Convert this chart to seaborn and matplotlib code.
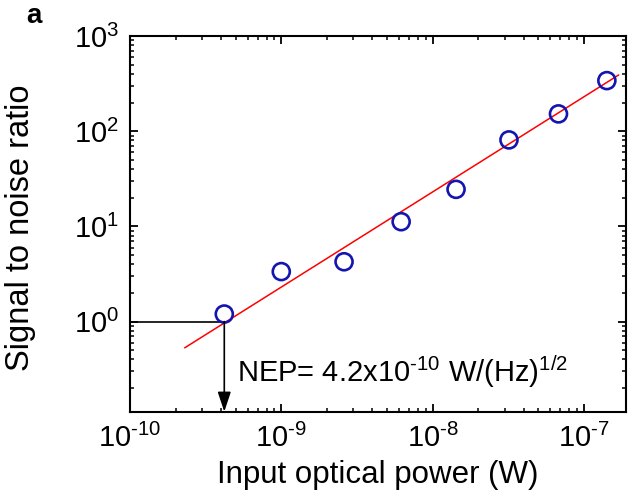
import numpy as np
import pandas as pd
import seaborn as sns
import matplotlib as mpl
import matplotlib.pyplot as plt
from matplotlib.ticker import LogLocator, FuncFormatter, NullFormatter

# measured points
power_w = [4.2e-10, 1.0e-9, 2.6e-9, 6.2e-9, 1.43e-8, 3.2e-8, 6.8e-8, 1.42e-7]
snr = [1.2, 3.35, 4.25, 11.2, 24.5, 81, 152, 340]

# linear fit (slope 1 on log-log)
fit_power = [2.3e-10, 1.7e-7]
fit_snr = [0.53, 390]

# noise equivalent power marker
nep_power = 4.2e-10
nep_snr = 1.0
nep_label = r"NEP= 4.2x10$^{\text{-}10}$ W/(Hz)$^{1/2}$"

x_limits = (1e-10, 1.9e-7)
y_limits = (0.113, 1e3)


def configure_plot():
    sns.set_style("ticks")
    plt.rcParams["font.family"] = ["Liberation Sans", "DejaVu Sans"]
    plt.rcParams.update({
        "mathtext.fontset": "custom",
        "mathtext.rm": "Liberation Sans",
        "mathtext.it": "Liberation Sans:italic",
        "mathtext.bf": "Liberation Sans:bold",
        "axes.linewidth": 1.5,
        "axes.edgecolor": "black",
        "axes.labelcolor": "black",
        "text.color": "black",
        "xtick.color": "black",
        "ytick.color": "black",
        "xtick.labelcolor": "black",
        "ytick.labelcolor": "black",
        "xtick.direction": "in",
        "ytick.direction": "in",
        "xtick.top": True,
        "ytick.right": True,
        "xtick.minor.visible": True,
        "ytick.minor.visible": True,
        "axes.axisbelow": False,
    })


def pow10_label(val, pos):
    exp = int(round(np.log10(val)))
    if exp < 0:
        return r"$10^{\text{-}%d}$" % abs(exp)
    return r"$10^{%d}$" % exp


def main():
    configure_plot()
    fig = plt.figure(figsize=(6.32, 5.03), dpi=100)
    ax = fig.add_axes([0.2057, 0.1815, 0.7848, 0.7469])

    pts = pd.DataFrame({"power": power_w, "snr": snr})
    fit = pd.DataFrame({"power": fit_power, "snr": fit_snr})

    sns.lineplot(data=fit, x="power", y="snr", color="red", linewidth=1.1, ax=ax)
    sns.scatterplot(data=pts, x="power", y="snr", marker="o", s=150,
                    facecolor="none", edgecolor="#1414b0", linewidth=1.9,
                    zorder=3, ax=ax)

    ax.set_xscale("log")
    ax.set_yscale("log")
    ax.set_xlim(*x_limits)
    ax.set_ylim(*y_limits)

    # NEP guide lines
    ax.plot([x_limits[0], nep_power], [nep_snr, nep_snr], color="black", lw=1.2)
    ax.annotate("", xy=(nep_power, y_limits[0]), xytext=(nep_power, nep_snr),
                arrowprops=dict(arrowstyle="-|>,head_length=0.6,head_width=0.2",
                                mutation_scale=20, color="black", lw=1.2,
                                shrinkA=0, shrinkB=0))
    ax.text(0.2157, 0.08, nep_label, transform=ax.transAxes,
            ha="left", va="baseline", fontsize=21)

    for axis in (ax.xaxis, ax.yaxis):
        axis.set_major_locator(LogLocator(base=10, numticks=20))
        axis.set_minor_locator(LogLocator(base=10, subs=np.arange(2, 10), numticks=20))
        axis.set_major_formatter(FuncFormatter(pow10_label))
        axis.set_minor_formatter(NullFormatter())
    ax.tick_params(which="both", direction="in", color="black",
                   bottom=True, top=True, left=True, right=True)
    ax.tick_params(which="major", length=5.5, width=1.3)
    ax.tick_params(which="minor", length=3.2, width=1.1)
    ax.tick_params(axis="x", which="major", labelsize=21, pad=9)
    ax.tick_params(axis="y", which="major", labelsize=21, pad=8)

    ax.set_xlabel("Input optical power (W)", fontsize=22.5)
    ax.set_ylabel("Signal to noise ratio", fontsize=23.5)
    ax.xaxis.set_label_coords(0.5, -0.128)
    ax.yaxis.set_label_coords(-0.19, 0.49)

    fig.text(0.054, 0.968, "a", fontsize=20, fontweight="bold",
             ha="center", va="center")

    fig.savefig("out.png", dpi=100)


if __name__ == "__main__":
    main()
